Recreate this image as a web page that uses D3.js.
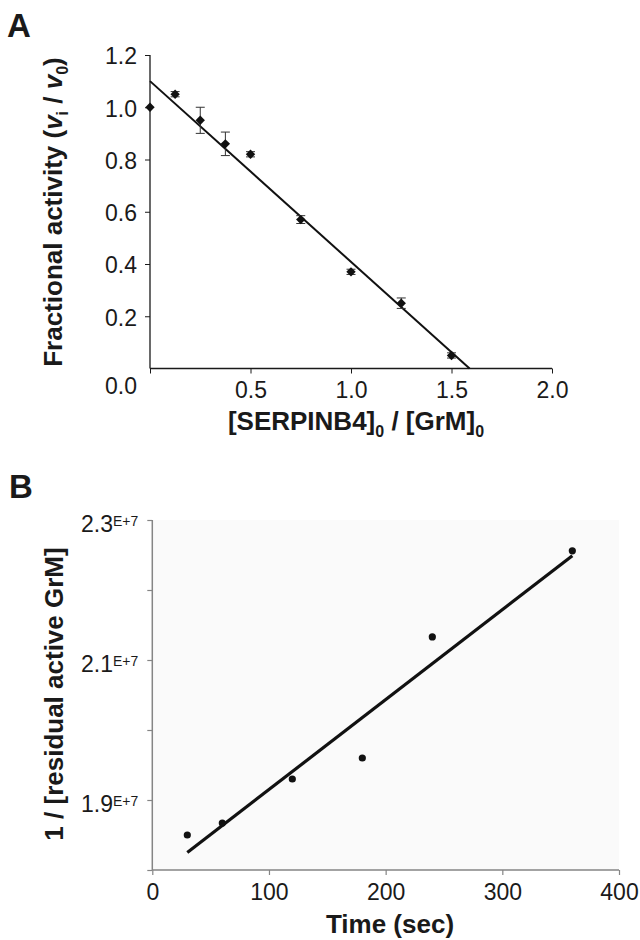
<!DOCTYPE html>
<html lang="en">
<head>
  <meta charset="UTF-8" />
  <title>SERPINB4 / GrM</title>
  <script src="https://d3js.org/d3.v7.min.js"></script>
  <style>
    body {
      margin: 0;
      padding: 0;
      background: #ffffff;
    }
    svg text {
      font-family: Arial, 'Liberation Sans', sans-serif;
      fill: #1a1a1a;
    }
    .tick-label { font-size: 23px; }
    .axis-title { font-size: 26px; font-weight: bold; }
    .panel-letter { font-size: 33px; font-weight: bold; }
  </style>
</head>
<body>
  <div id="chart"></div>

  <script>
    // Panel A: titration
    const ratioA = [0, 0.125, 0.25, 0.375, 0.5, 0.75, 1.0, 1.25, 1.5];
    const activityA = [1.0, 1.05, 0.95, 0.86, 0.82, 0.57, 0.37, 0.25, 0.05];
    const errorA = [0, 0.01, 0.05, 0.045, 0.01, 0.015, 0.01, 0.02, 0.01];
    const fitXA = [0, 1.59];
    const fitYA = [1.10, 0];
    const xTicksA = [0.5, 1.0, 1.5, 2.0];
    const yTicksA = [0.2, 0.4, 0.6, 0.8, 1.0, 1.2];

    // Panel B: second-order plot
    const timeB = [30, 60, 120, 180, 240, 360];
    const invGrMB = [1.85e7, 1.867e7, 1.93e7, 1.96e7, 2.133e7, 2.256e7];
    const fitXB = [30, 360];
    const fitYB = [1.825e7, 2.249e7];
    const xTicksB = [0, 100, 200, 300, 400];
    const yTicksB = [1.8e7, 1.9e7, 2.0e7, 2.1e7, 2.2e7, 2.3e7];
    const yLabelsB = ["1.9", "2.1", "2.3"];

    const W = 640, H = 940;
    const svg = d3.select("#chart").append("svg")
      .attr("width", W)
      .attr("height", H);

    // ---------- A ----------
    const xA = d3.scaleLinear().domain([0, 2]).range([150, 552]);
    const yA = d3.scaleLinear().domain([0, 1.2]).range([368.5, 55]);
    const gA = svg.append("g");

    gA.append("text").attr("class", "panel-letter")
      .attr("x", 7).attr("y", 37).text("A");

    const xAxisA = gA.append("g")
      .attr("transform", `translate(0,${yA(0)})`)
      .call(d3.axisBottom(xA).tickValues([0].concat(xTicksA)).tickSize(5)
        .tickFormat(d => d === 0 ? "" : d3.format(".1f")(d)));
    const yAxisA = gA.append("g")
      .attr("transform", `translate(${xA(0)},0)`)
      .call(d3.axisLeft(yA).tickValues(yTicksA).tickSize(5)
        .tickFormat(d3.format(".1f")));

    [xAxisA, yAxisA].forEach(ax => {
      ax.select(".domain").attr("stroke", "#1a1a1a").attr("stroke-width", 1.3);
      ax.selectAll(".tick line").attr("stroke", "#1a1a1a");
      ax.selectAll(".tick text").attr("class", "tick-label")
        .attr("font-family", null).attr("font-size", null);
    });
    xAxisA.select(".domain").attr("d", `M${xA(0)},0H${xA(2)}`);
    yAxisA.select(".domain").attr("d", `M0,${yA(1.2)}V${yA(0)}`);
    xAxisA.selectAll(".tick text").attr("y", 9).attr("dy", "0.9em");
    yAxisA.selectAll(".tick text").attr("x", -13).attr("dy", "0.38em");

    // lone "0.0" at the origin, set low and left as in the source figure
    gA.append("text").attr("class", "tick-label")
      .attr("text-anchor", "end")
      .attr("x", xA(0) - 13)
      .attr("y", yA(0) + 25)
      .text("0.0");

    // fit line
    const lineA = d3.line().x(d => xA(d[0])).y(d => yA(d[1]));
    gA.append("path")
      .datum(d3.zip(fitXA, fitYA))
      .attr("d", lineA)
      .attr("fill", "none")
      .attr("stroke", "#111")
      .attr("stroke-width", 2);

    const ptsA = ratioA.map((r, i) => ({ x: r, y: activityA[i], e: errorA[i] }));

    // error bars
    const eb = gA.append("g").attr("stroke", "#333").attr("stroke-width", 1);
    ptsA.filter(d => d.e > 0).forEach(d => {
      const cx = xA(d.x);
      eb.append("line").attr("x1", cx).attr("x2", cx)
        .attr("y1", yA(d.y - d.e)).attr("y2", yA(d.y + d.e));
      [d.y - d.e, d.y + d.e].forEach(v => {
        eb.append("line").attr("x1", cx - 4.5).attr("x2", cx + 4.5)
          .attr("y1", yA(v)).attr("y2", yA(v));
      });
    });

    // diamonds
    gA.selectAll(".dia").data(ptsA).enter().append("path")
      .attr("class", "dia")
      .attr("d", d3.symbol(d3.symbolSquare, 44))
      .attr("transform", d => `translate(${xA(d.x)},${yA(d.y)}) rotate(45)`)
      .attr("fill", "#111");

    // titles
    const xtA = gA.append("text").attr("class", "axis-title")
      .attr("text-anchor", "middle")
      .attr("x", 356).attr("y", 430);
    xtA.append("tspan").text("[SERPINB4]");
    xtA.append("tspan").attr("font-size", 16).attr("dy", 7).text("0");
    xtA.append("tspan").attr("dy", -7).text(" / [GrM]");
    xtA.append("tspan").attr("font-size", 16).attr("dy", 7).text("0");

    const ytA = gA.append("text").attr("class", "axis-title")
      .attr("text-anchor", "middle")
      .attr("transform", "translate(62,212) rotate(-90)");
    ytA.append("tspan").text("Fractional activity (");
    ytA.append("tspan").attr("font-style", "italic").text("v");
    ytA.append("tspan").attr("font-size", 16).attr("dy", 6).text("i");
    ytA.append("tspan").attr("dy", -6).text(" / ");
    ytA.append("tspan").attr("font-style", "italic").text("v");
    ytA.append("tspan").attr("font-size", 16).attr("dy", 6).text("0");
    ytA.append("tspan").attr("dy", -6).text(")");

    // ---------- B ----------
    const xB = d3.scaleLinear().domain([0, 400]).range([152.3, 619]);
    const yB = d3.scaleLinear().domain([1.8e7, 2.3e7]).range([870, 520]);
    const gB = svg.append("g");
    const grey = "#858585";

    gB.append("text").attr("class", "panel-letter")
      .attr("x", 9).attr("y", 498).text("B");

    gB.append("rect")
      .attr("x", xB(0)).attr("y", yB(2.3e7))
      .attr("width", xB(400) - xB(0))
      .attr("height", yB(1.8e7) - yB(2.3e7))
      .attr("fill", "#fafafa");

    const xAxisB = gB.append("g")
      .attr("transform", `translate(0,${yB(1.8e7)})`)
      .call(d3.axisBottom(xB).tickValues(xTicksB).tickSize(5).tickFormat(d3.format("d")));
    const yAxisB = gB.append("g")
      .attr("transform", `translate(${xB(0)},0)`)
      .call(d3.axisLeft(yB).tickValues(yTicksB).tickSize(5).tickFormat(""));

    [xAxisB, yAxisB].forEach(ax => {
      ax.select(".domain").attr("stroke", grey).attr("stroke-width", 1.5);
      ax.selectAll(".tick line").attr("stroke", grey).attr("stroke-width", 1.2);
    });
    xAxisB.select(".domain").attr("d", `M${xB(0)},0H${xB(400)}`);
    yAxisB.select(".domain").attr("d", `M0,${yB(2.3e7)}V${yB(1.8e7)}`);
    xAxisB.selectAll(".tick text").attr("class", "tick-label")
      .attr("font-family", null).attr("font-size", null)
      .attr("y", 9).attr("dy", "0.9em");

    // y labels with superscript exponent
    yLabelsB.forEach(lbl => {
      const v = +lbl * 1e7;
      const t = gB.append("text").attr("class", "tick-label")
        .attr("text-anchor", "end")
        .attr("x", xB(0) - 14)
        .attr("y", yB(v) + 12);
      t.append("tspan").text(lbl);
      t.append("tspan").attr("font-size", 14).attr("dy", -6).text("E+7");
    });

    const lineB = d3.line().x(d => xB(d[0])).y(d => yB(d[1]));
    gB.append("path")
      .datum(d3.zip(fitXB, fitYB))
      .attr("d", lineB)
      .attr("fill", "none")
      .attr("stroke", "#111")
      .attr("stroke-width", 3.2);

    gB.selectAll(".dot").data(d3.zip(timeB, invGrMB)).enter().append("circle")
      .attr("class", "dot")
      .attr("cx", d => xB(d[0]))
      .attr("cy", d => yB(d[1]))
      .attr("r", 3.6)
      .attr("fill", "#111");

    gB.append("text").attr("class", "axis-title")
      .attr("text-anchor", "middle")
      .attr("x", 390).attr("y", 933)
      .text("Time (sec)");

    gB.append("text").attr("class", "axis-title")
      .attr("text-anchor", "middle")
      .attr("transform", "translate(63,694) rotate(-90)")
      .text("1 / [residual active GrM]");
  </script>
</body>
</html>
